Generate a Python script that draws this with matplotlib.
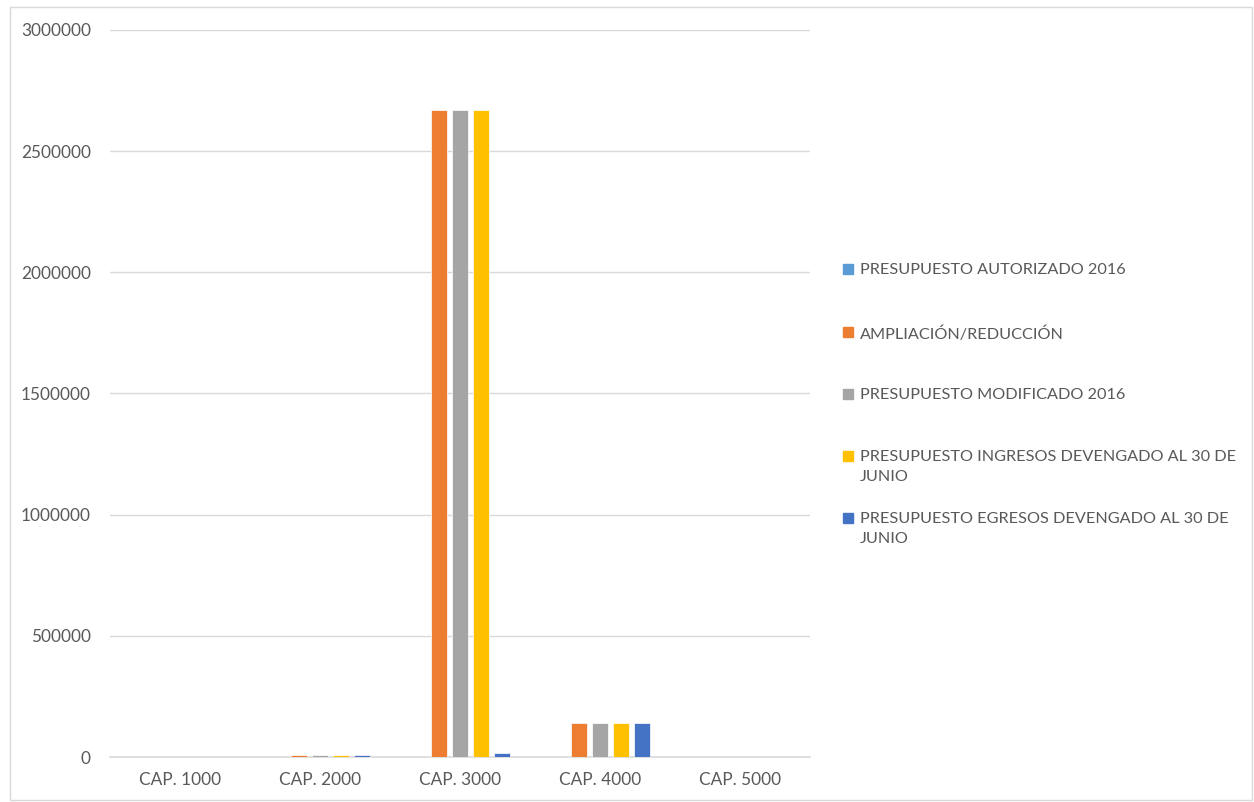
import matplotlib
matplotlib.use("Agg")
import numpy as np
import matplotlib.pyplot as plt
from matplotlib.patches import Rectangle

plt.rcParams['font.family'] = ['Lato', 'DejaVu Sans']

categories = ['CAP. 1000', 'CAP. 2000', 'CAP. 3000', 'CAP. 4000', 'CAP. 5000']
autorizado = [0, 0, 0, 0, 0]
ampliacion = [0, 8000, 2670000, 140000, 0]
modificado = [0, 8000, 2670000, 140000, 0]
ingresos = [0, 8000, 2670000, 140000, 0]
egresos = [0, 8000, 16000, 140000, 0]

series = [autorizado, ampliacion, modificado, ingresos, egresos]
labels = ['PRESUPUESTO AUTORIZADO 2016',
          'AMPLIACIÓN/REDUCCIÓN',
          'PRESUPUESTO MODIFICADO 2016',
          'PRESUPUESTO INGRESOS DEVENGADO AL 30 DE\nJUNIO',
          'PRESUPUESTO EGRESOS DEVENGADO AL 30 DE\nJUNIO']
colors = ['#5B9BD5', '#ED7D31', '#A5A5A5', '#FFC000', '#4472C4']
txt = '#595959'

fig = plt.figure(figsize=(12.54, 8.02), dpi=100)
ax = fig.add_axes([110/1254, 45/802, 700/1254, 727/802])

x = np.arange(len(categories))
step = 0.15
width = 0.115
for i, (vals, c) in enumerate(zip(series, colors)):
    ax.bar(x + (i - 2) * step, vals, width, color=c, edgecolor='white', linewidth=0.5, zorder=3)

ax.set_xlim(-0.5, 4.5)
ax.set_ylim(0, 3000000)
ax.set_yticks(np.arange(0, 3000001, 500000))
ax.set_yticklabels([str(v) for v in range(0, 3000001, 500000)])
ax.set_xticks(x)
ax.set_xticklabels(categories)
ax.grid(axis='y', color='#D9D9D9', linewidth=1, zorder=0)
for s in ['top', 'right', 'left']:
    ax.spines[s].set_visible(False)
ax.spines['bottom'].set_color('#D9D9D9')
ax.spines['bottom'].set_linewidth(1.2)
ax.tick_params(length=0, colors=txt, labelsize=12.4)
ax.tick_params(axis='y', pad=13.7)
ax.tick_params(axis='x', pad=11)

# legend, Excel-style slots
ys = [269, 332, 394, 456, 518]
for lab, c, yy in zip(labels, colors, ys):
    fig.patches.append(Rectangle((843/1254, 1 - (yy + 5)/802), 10/1254, 10/802,
                                 transform=fig.transFigure, color=c, figure=fig))
    fig.text(860/1254, 1 - (yy - 6)/802, lab, color=txt, fontsize=11.7, va='top',
             ha='left', linespacing=1.55)

fig.patches.append(Rectangle((10/1254, 2/802), 1242/1254, 793/802, transform=fig.transFigure,
                             fill=False, edgecolor='#D9D9D9', linewidth=1, figure=fig))

fig.savefig('out.png', dpi=100)
